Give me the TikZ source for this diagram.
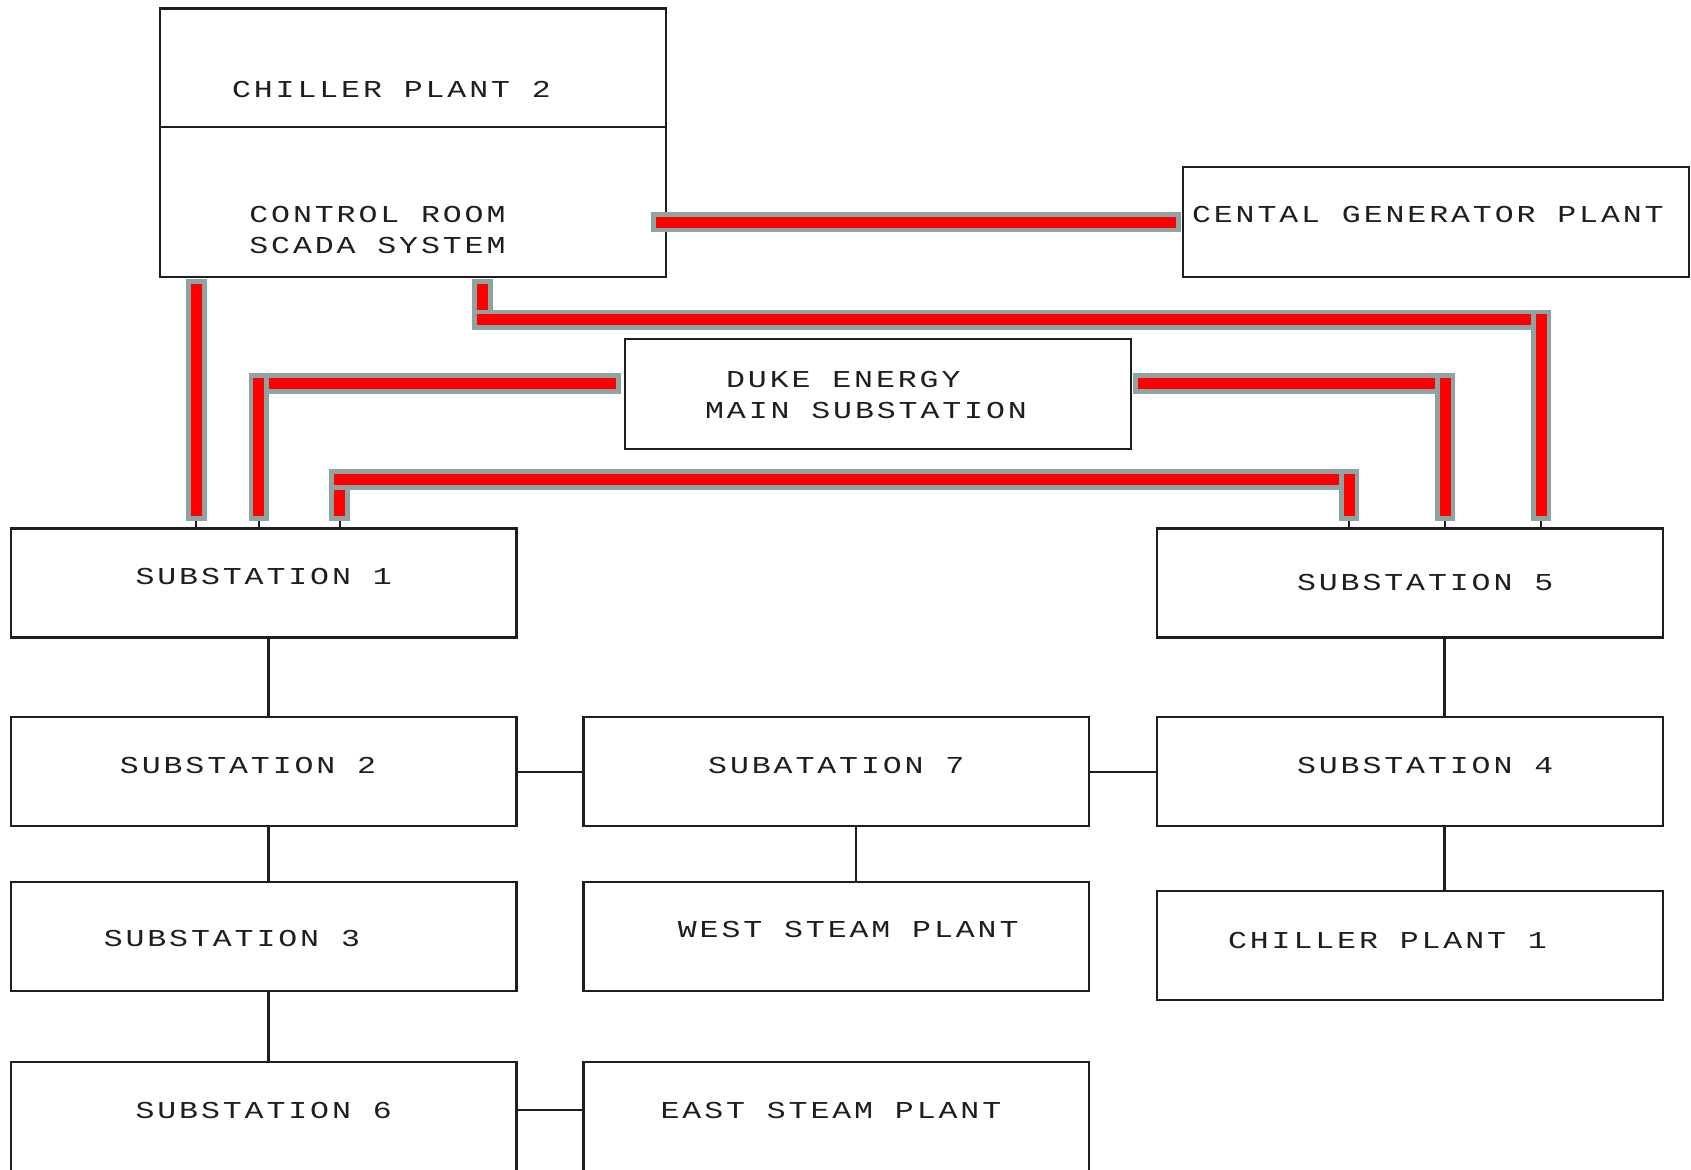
\documentclass[tikz,border=0pt]{standalone}
\usepackage{fontspec}
\usetikzlibrary{positioning, calc}
\newfontfamily\plotfont[FakeStretch=1.3, LetterSpace=12]{Liberation Mono}
\definecolor{cablered}{HTML}{FF0000}
\definecolor{cablegray}{HTML}{8FA3A3}
\definecolor{inkblack}{HTML}{1E1E1E}

% one straight run of power cable: grey sleeve with red core
\newcommand{\cableseg}[2]{%
  \draw[cableback] #1 -- #2;
  \draw[cablecore] #1 -- #2;}

\begin{document}
\begin{tikzpicture}[
    node distance=0.6cm and 0.62cm,
    font={\plotfont\fontsize{6.4}{8.25}\selectfont},
    station/.style={draw=inkblack, line width=0.6pt, minimum width=4.69cm, minimum height=1.01cm, inner sep=0pt, outer sep=0pt},
    wire/.style={draw=inkblack, line width=0.6pt},
    cableback/.style={draw=cablegray, line width=0.19cm, line cap=rect},
    cablecore/.style={draw=cablered, line width=0.10cm, line cap=rect},
    every label/.style={text=inkblack, align=center}
  ]
    \useasboundingbox (0,0) rectangle (15.68,10.84);

    % Control building
    \node[station, minimum height=1.10cm, label={[shift={(-0.20,-0.20)}]center:CHILLER PLANT 2}] (chiller2) at (3.83,10.21) {};
    \node[station, minimum height=1.39cm, below=0pt of chiller2, label={[shift={(-0.33,-0.26)}]center:{CONTROL ROOM\\SCADA SYSTEM}}] (ctrl) {};
    \node[station, minimum height=1.02cm, label={[shift={(-0.075,0.07)}]center:CENTAL GENERATOR PLANT}] (gen) at (13.315,8.78) {};
    \node[station, minimum height=1.02cm, label={[shift={(-0.11,-0.015)}]center:{DUKE ENERGY\hspace*{0.42cm}\\MAIN SUBSTATION}}] (duke) at (8.14,7.19) {};

    % Substations
    \node[station, label={[shift={(0,0.055)}]center:SUBSTATION 1}] (sub1) at (2.445,5.435) {};
    \node[station, below=0.74cm of sub1, label={[shift={(-0.145,0.055)}]center:SUBSTATION 2}] (sub2) {};
    \node[station, below=0.52cm of sub2, label={[shift={(-0.295,-0.015)}]center:SUBSTATION 3}] (sub3) {};
    \node[station, minimum height=1.10cm, below=0.66cm of sub3, label={[shift={(0,0.10)}]center:SUBSTATION 6}] (sub6) {};
    \node[station, right=0.62cm of sub2, label={[shift={(0,0.055)}]center:SUBATATION 7}] (sub7) {};
    \node[station, below=0.52cm of sub7, label={[shift={(0.11,0.065)}]center:WEST STEAM PLANT}] (west) {};
    \node[station, minimum height=1.10cm, right=0.62cm of sub6, label={[shift={(-0.05,0.10)}]center:EAST STEAM PLANT}] (east) {};
    \node[station, right=0.63cm of sub7, label={[shift={(0.14,0.055)}]center:SUBSTATION 4}] (sub4) {};
    \node[station, above=0.74cm of sub4, label={[shift={(0.14,0)}]center:SUBSTATION 5}] (sub5) {};
    \node[station, below=0.60cm of sub4, label={[shift={(-0.21,0.045)}]center:CHILLER PLANT 1}] (chiller1) {};

    % Local feeders
    \draw[wire] ($(sub1.south)+(0.045,0)$) -- ($(sub2.north)+(0.045,0)$);
    \draw[wire] ($(sub2.south)+(0.045,0)$) -- ($(sub3.north)+(0.045,0)$);
    \draw[wire] ($(sub3.south)+(0.045,0)$) -- ($(sub6.north)+(0.045,0)$);
    \draw[wire] (sub2.east) -- (sub7.west);
    \draw[wire] (sub7.east) -- (sub4.west);
    \draw[wire] ($(sub7.south)+(0.18,0)$) -- ($(west.north)+(0.18,0)$);
    \draw[wire] ($(sub6.north east)+(0,-0.44)$) -- ($(east.north west)+(0,-0.44)$);
    \draw[wire] ($(sub5.south)+(0.32,0)$) -- ($(sub4.north)+(0.32,0)$);
    \draw[wire] ($(sub4.south)+(0.32,0)$) -- ($(chiller1.north)+(0.32,0)$);

    % Cable taps
    \coordinate (s1a) at ($(sub1.north west)+(1.72,0)$);
    \coordinate (s1b) at ($(sub1.north west)+(2.30,0)$);
    \coordinate (s1c) at ($(sub1.north west)+(3.05,0)$);
    \coordinate (s5a) at ($(sub5.north west)+(1.78,0)$);
    \coordinate (s5b) at ($(sub5.north west)+(2.67,0)$);
    \coordinate (s5c) at ($(sub5.north west)+(3.56,0)$);
    \coordinate (c2) at ($(ctrl.south west)+(2.99,0)$);
    \foreach \tap in {s1a, s1b, s1c, s5a, s5b, s5c}
      \draw[wire] (\tap) -- ++(0,0.07);

    % Cable bends
    \coordinate (ctrlend) at ($(gen.west -| ctrl.east)+(-0.045,0)$);
    \coordinate (k3) at ($(s5c)+(0,1.935)$);
    \coordinate (k6) at ($(s5a)+(0,0.455)$);
    \coordinate (dukel) at ($(duke.west)+(-0.135,0.095)$);
    \coordinate (duker) at ($(duke.east)+(0.115,0.095)$);

    % Main cables
    \cableseg{(ctrlend)}{($(gen.west)+(-0.115,0)$)}
    \cableseg{($(s1a |- ctrl.south)+(0,-0.115)$)}{($(s1a)+(0,0.165)$)}
    \cableseg{($(c2)+(0,-0.115)$)}{(c2 |- k3)}
    \cableseg{(c2 |- k3)}{(k3)}
    \cableseg{(k3)}{($(s5c)+(0,0.165)$)}
    \cableseg{(dukel)}{(s1b |- dukel)}
    \cableseg{(s1b |- dukel)}{($(s1b)+(0,0.165)$)}
    \cableseg{(duker)}{(s5b |- duker)}
    \cableseg{(s5b |- duker)}{($(s5b)+(0,0.165)$)}
    \cableseg{($(s1c)+(0,0.165)$)}{(s1c |- k6)}
    \cableseg{(s1c |- k6)}{(k6)}
    \cableseg{(k6)}{($(s5a)+(0,0.165)$)}
  \end{tikzpicture}
\end{document}
